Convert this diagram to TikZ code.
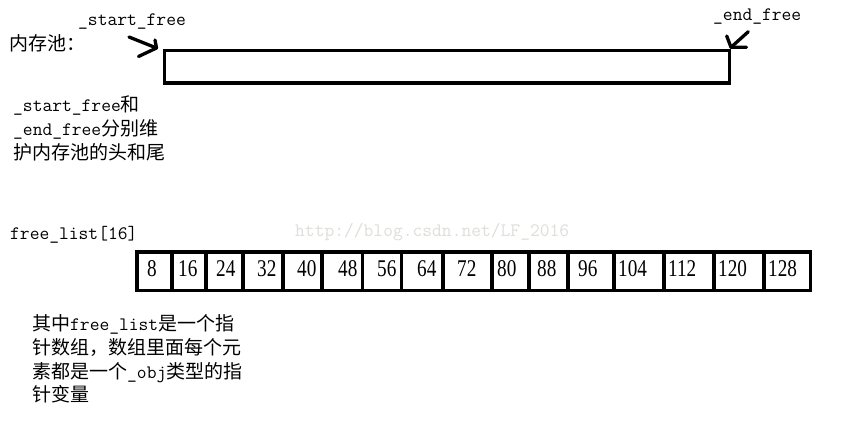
\documentclass[tikz,border=0pt]{standalone}
\usepackage{fontspec}
\newfontfamily\cjk{Noto Sans CJK SC}
\newfontfamily\digf[FakeStretch=0.8]{Liberation Serif}
\newcommand\zh[1]{{\cjk #1}}
\definecolor{wm}{RGB}{222,222,218}
\tikzset{
  lbl/.style={anchor=base west, inner sep=0pt, font=\ttfamily\fontsize{19}{24}\selectfont},
  num/.style={anchor=base west, inner sep=0pt, font=\digf\fontsize{24}{24}\selectfont},
  heavy/.style={line width=3.6pt},
  pen/.style={line width=3.3pt, line cap=round, line join=round}
}
\begin{document}
\begin{tikzpicture}[x=1pt,y=-1pt]
\useasboundingbox (0,0) rectangle (851,439);
\fill[white] (0,0) rectangle (851,439);
% memory pool
\node (pool) [draw, heavy, inner sep=0pt, outer sep=0pt, minimum width=564.8pt, minimum height=32.7pt, anchor=north west] at (164.5,50.3) {};
\node (poollbl) [lbl] at (9,50) {\zh{内存池：}};
\node (sf) [lbl] at (78,25) {\_start\_free};
\node (ef) [lbl] at (713,20) {\_end\_free};
% start arrow
\coordinate (st) at (156.5,48);
\coordinate (stail) at (129,37);
\draw[pen] (stail) -- (st);
\draw[pen] (155,40) -- (st) -- (138.5,56.5);
% end arrow
\coordinate (et) at (731,47.3);
\coordinate (etail) at (748.3,31.7);
\draw[pen] (etail) -- (et);
\draw[pen] (726.7,36) -- (et) -- (746.5,47.3);
% paragraph 1
\node (p1a) [lbl] at (13,111) {\_start\_free\zh{和}};
\node (p1b) [lbl] at (13,135.5) {\_end\_free\zh{分别维}};
\node (p1c) [lbl] at (13,159.5) {\zh{护内存池的头和尾}};
% free list
\node (fl) [lbl] at (10,239) {free\_list[16]};
\node (wmk) [lbl, text=wm] at (295,236) {http://blog.csdn.net/LF\_2016};
\node (arr) [draw, heavy, inner sep=0pt, outer sep=0pt, minimum width=673.8pt, minimum height=38.3pt, anchor=north west] at (136.7,252) {};
\foreach \x in {171.7,205.7,242.7,282.7,321.7,362.5,401.3,443,492,528.7,568,613.7,663.8,713.7,763.8}
  \draw[heavy] (\x,252) -- (\x,290.3);
\foreach \x/\t [count=\i] in {147/8,178/16,216/24,257/32,297/40,338/48,377/56,417/64,457/72,497/80,537/88,578/96,618/104,668/112,718/120,768/128}
  \node (n\i) [num] at (\x,276) {\t};
% paragraph 2
\node (p2a) [lbl] at (32,330) {\zh{其中}free\_list\zh{是一个指}};
\node (p2b) [lbl] at (32,354) {\zh{针数组，数组里面每个元}};
\node (p2c) [lbl] at (32,378) {\zh{素都是一个}\_obj\zh{类型的指}};
\node (p2d) [lbl] at (32,401.5) {\zh{针变量}};
\end{tikzpicture}
\end{document}
